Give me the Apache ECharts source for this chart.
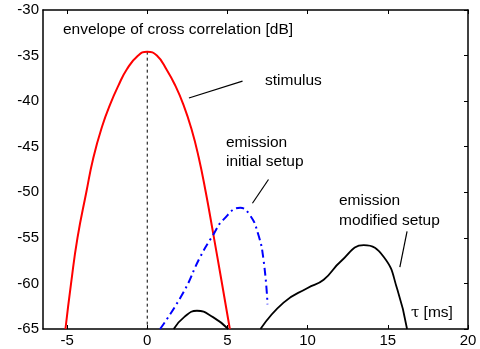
<!DOCTYPE html>
<html>
<head>
<meta charset="utf-8">
<script src="https://cdn.jsdelivr.net/npm/echarts@6/dist/echarts.min.js"></script>
<style>
  html, body { margin: 0; padding: 0; background: #fff; }
  #chart { width: 480px; height: 349px; }
</style>
</head>
<body>
<div id="chart"></div>
<script>
// values (tau in ms, level in dB)
const stimulus = [
  [-5.1, -65], [-4.75, -60], [-4.35, -55], [-3.8, -50], [-3.36, -46.2],
  [-2.8, -42.7], [-2.3, -40.3], [-1.8, -38.3], [-1.27, -36.5], [-0.6, -35.05],
  [0, -34.57], [0.6, -35.0], [1.23, -36.6], [1.75, -38.3], [2.26, -40.4],
  [2.75, -43.0], [3.2, -46.1], [3.65, -50.0], [4.1, -54.4], [4.62, -59.6],
  [5.15, -65],
];
const initialSetup = [
  [0.8, -65], [2.25, -61], [3.3, -57.1], [4.1, -54.7], [4.75, -53],
  [5.8, -51.7], [6.4, -52.5], [6.9, -54.5], [7.25, -57.4], [7.5, -62.3],
];
const modifiedHump = [[1.65, -65], [2.3, -63.7], [3.1, -63], [4.1, -63.7], [5.05, -65]];
const modifiedMain = [
  [7.06, -65], [8.5, -62.1], [10, -60.5], [11, -59.6], [12.06, -57.6],
  [13.5, -55.8], [14.75, -57.1], [15.6, -60.7], [16.2, -65],
];
const peakMarker = [[0, -34.57], [0, -65]];
const xTicks = [-5, 0, 5, 10, 15, 20];

// leader lines of the annotations, in data units
const leaderStimulus = [[2.6, -39.65], [5.94, -37.8]];
const leaderInitial = [[6.56, -51.2], [7.56, -48.6]];
const leaderModified = [[15.75, -58.2], [16.2, -54.3]];

const font = '15.5px "Liberation Sans", Arial, sans-serif';
const chart = echarts.init(document.getElementById("chart"));

const label = (text, x, y) => ({
  type: "text",
  x: x,
  y: y,
  style: { text: text, font: font, fill: "#000", verticalAlign: "middle" },
});

const leader = (data) => ({
  type: "line",
  data: data,
  symbol: "none",
  silent: true,
  lineStyle: { color: "#000", width: 1.2 },
});

const curve = (data, color, width, dash) => ({
  type: "line",
  data: data,
  smooth: 0.5,
  symbol: "none",
  lineStyle: { color: color, width: width, type: dash || "solid" },
});

chart.setOption({
  animation: false,
  grid: { left: 43, right: 12, top: 10, bottom: 20 },
  xAxis: [
    {
      type: "value",
      min: -6.5,
      max: 20,
      axisLine: { onZero: false, lineStyle: { color: "#000", width: 1.5 } },
      axisTick: { customValues: xTicks, inside: true, length: 4, lineStyle: { color: "#000" } },
      axisLabel: { customValues: xTicks, color: "#000", fontSize: 15, fontFamily: "Liberation Sans", margin: 4 },
      splitLine: { show: false },
    },
    {
      type: "value",
      position: "top",
      min: -6.5,
      max: 20,
      axisLine: { onZero: false, lineStyle: { color: "#000", width: 1.5 } },
      axisTick: { customValues: xTicks, inside: true, length: 4, lineStyle: { color: "#000" } },
      axisLabel: { show: false },
      splitLine: { show: false },
    },
  ],
  yAxis: [
    {
      type: "value",
      min: -65,
      max: -30,
      interval: 5,
      axisLine: { show: true, onZero: false, lineStyle: { color: "#000", width: 1.5 } },
      axisTick: { show: false },
      axisLabel: { color: "#000", fontSize: 15, fontFamily: "Liberation Sans", margin: 4 },
      splitLine: { show: false },
    },
    {
      type: "value",
      position: "right",
      min: -65,
      max: -30,
      interval: 5,
      axisLine: { show: true, onZero: false, lineStyle: { color: "#000", width: 1.5 } },
      axisTick: { show: true, inside: true, length: 4, lineStyle: { color: "#000" } },
      axisLabel: { show: false },
      splitLine: { show: false },
    },
  ],
  series: [
    {
      type: "line",
      data: peakMarker,
      symbol: "none",
      lineStyle: { color: "#000", width: 1, type: [3, 3] },
    },
    curve(stimulus, "#ff0000", 2),
    curve(initialSetup, "#0000ff", 2, [8, 4, 2, 4]),
    curve(modifiedHump, "#000", 1.8),
    curve(modifiedMain, "#000", 1.8),
    leader(leaderStimulus),
    leader(leaderInitial),
    leader(leaderModified),
  ],
  graphic: [
    label("envelope of cross correlation [dB]", 63, 30),
    label("stimulus", 265, 81),
    label("emission", 226, 143),
    label("initial setup", 226, 162),
    label("emission", 339, 201),
    label("modified setup", 339, 221),
    {
      type: "text",
      x: 411,
      y: 313,
      style: {
        text: "{t|τ} [ms]",
        font: font,
        fill: "#000",
        verticalAlign: "middle",
        rich: { t: { fontFamily: "DejaVu Serif", fontSize: 15, fill: "#000" } },
      },
    },
  ],
});
</script>
</body>
</html>
